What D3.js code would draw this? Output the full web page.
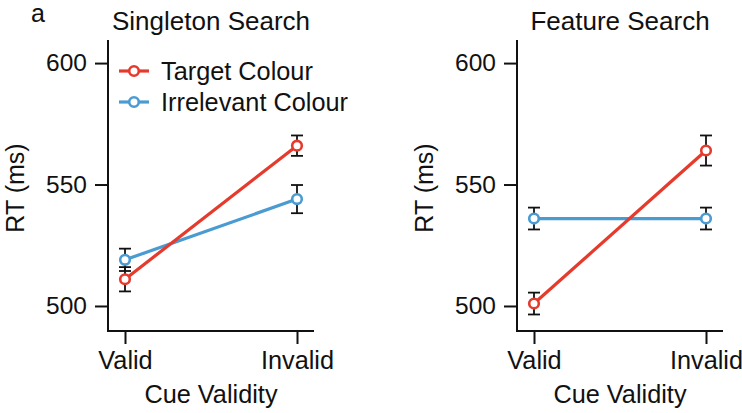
<!DOCTYPE html>
<html><head><meta charset="utf-8">
<script src="https://cdn.jsdelivr.net/npm/d3@7"></script>
<style>body{margin:0;background:#fff}text{font-family:"Liberation Sans",Arial,Helvetica,sans-serif;fill:#111}</style>
</head><body>
<svg id="c" width="742" height="413"></svg>
<script>
const conditions = ["Valid", "Invalid"];
const panelTitles = ["Singleton Search", "Feature Search"];
const seriesNames = ["Target Colour", "Irrelevant Colour"];
const seriesColors = ["#e53a2c", "#4a9bd1"];
const yTicks = [500, 550, 600];
// panel 0: Singleton Search
const singletonTarget = [511, 566];
const singletonTargetErr = [5, 4.2];
const singletonIrrelevant = [519, 544];
const singletonIrrelevantErr = [4.6, 5.8];
// panel 1: Feature Search
const featureTarget = [501, 564];
const featureTargetErr = [4.5, 6.2];
const featureIrrelevant = [536, 536];
const featureIrrelevantErr = [4.5, 4.5];

const panels = [
  {title: panelTitles[0], series: [[singletonTarget, singletonTargetErr], [singletonIrrelevant, singletonIrrelevantErr]], ox: 0},
  {title: panelTitles[1], series: [[featureTarget, featureTargetErr], [featureIrrelevant, featureIrrelevantErr]], ox: 409}
];

const svg = d3.select("#c");
svg.append("text").attr("x", 31).attr("y", 22).attr("font-size", 25).text("a");

const y = d3.scaleLinear().domain([489.7, 609.5]).range([331, 40]);

panels.forEach((p, pi) => {
  const g = svg.append("g").attr("transform", `translate(${p.ox},0)`);
  const x0 = 108, x1 = 314;
  const x = d3.scalePoint().domain(conditions).range([125, 297]);

  const ya = g.append("g").attr("transform", `translate(${x0},0)`)
    .call(d3.axisLeft(y).tickValues(yTicks).tickSize(13).tickPadding(8).tickSizeOuter(0));
  const xa = g.append("g").attr("transform", `translate(0,331)`)
    .call(d3.axisBottom(x).tickSize(13).tickPadding(7).tickSizeOuter(0));
  [ya, xa].forEach(a => {
    a.select(".domain").remove();
    a.selectAll("line").attr("stroke", "#111").attr("stroke-width", 2);
    a.selectAll("text").attr("font-size", 24.5).attr("fill", "#111")
      .attr("font-family", '"Liberation Sans",Arial,sans-serif');
  });
  xa.selectAll("text").attr("font-size", 25.3);
  g.append("line").attr("x1", x0).attr("x2", x0).attr("y1", y.range()[1]).attr("y2", 332).attr("stroke", "#111").attr("stroke-width", 2);
  g.append("line").attr("x1", x0 - 1).attr("x2", x1).attr("y1", 331).attr("y2", 331).attr("stroke", "#111").attr("stroke-width", 2);

  g.append("text").attr("x", 211).attr("y", 30).attr("text-anchor", "middle").attr("font-size", 26).text(p.title);
  g.append("text").attr("x", 211).attr("y", 403).attr("text-anchor", "middle").attr("font-size", 25.3).text("Cue Validity");
  g.append("text").attr("transform", `translate(24,188) rotate(-90)`)
    .attr("text-anchor", "middle").attr("font-size", 25).text("RT (ms)");

  const line = d3.line().x((d, i) => x(conditions[i])).y(d => y(d));
  const order = [1, 0];
  order.forEach(si => {
    const [vals] = p.series[si];
    g.append("path").datum(vals).attr("d", line).attr("fill", "none")
      .attr("stroke", seriesColors[si]).attr("stroke-width", 3.2);
  });
  order.forEach(si => {
    const [vals, errs] = p.series[si];
    vals.forEach((v, i) => {
      const cx = x(conditions[i]);
      const eg = g.append("g").attr("stroke", "#111").attr("stroke-width", 1.8);
      eg.append("line").attr("x1", cx).attr("x2", cx).attr("y1", y(v + errs[i])).attr("y2", y(v - errs[i]));
      eg.append("line").attr("x1", cx - 6).attr("x2", cx + 6).attr("y1", y(v + errs[i])).attr("y2", y(v + errs[i]));
      eg.append("line").attr("x1", cx - 6).attr("x2", cx + 6).attr("y1", y(v - errs[i])).attr("y2", y(v - errs[i]));
    });
  });
  order.forEach(si => {
    const [vals] = p.series[si];
    g.selectAll(null).data(vals).enter().append("circle")
      .attr("cx", (d, i) => x(conditions[i])).attr("cy", d => y(d)).attr("r", 4.8)
      .attr("fill", "#fff").attr("stroke", seriesColors[si]).attr("stroke-width", 2.6);
  });

  if (pi === 0) {
    seriesNames.forEach((name, si) => {
      const ly = 71 + si * 31;
      g.append("line").attr("x1", 119).attr("x2", 149).attr("y1", ly).attr("y2", ly)
        .attr("stroke", seriesColors[si]).attr("stroke-width", 3.2);
      g.append("circle").attr("cx", 134).attr("cy", ly).attr("r", 4.8).attr("fill", "#fff")
        .attr("stroke", seriesColors[si]).attr("stroke-width", 2.6);
      g.append("text").attr("x", 161).attr("y", ly + 9).attr("font-size", 25.3).text(name);
    });
  }
});
</script>
</body></html>
